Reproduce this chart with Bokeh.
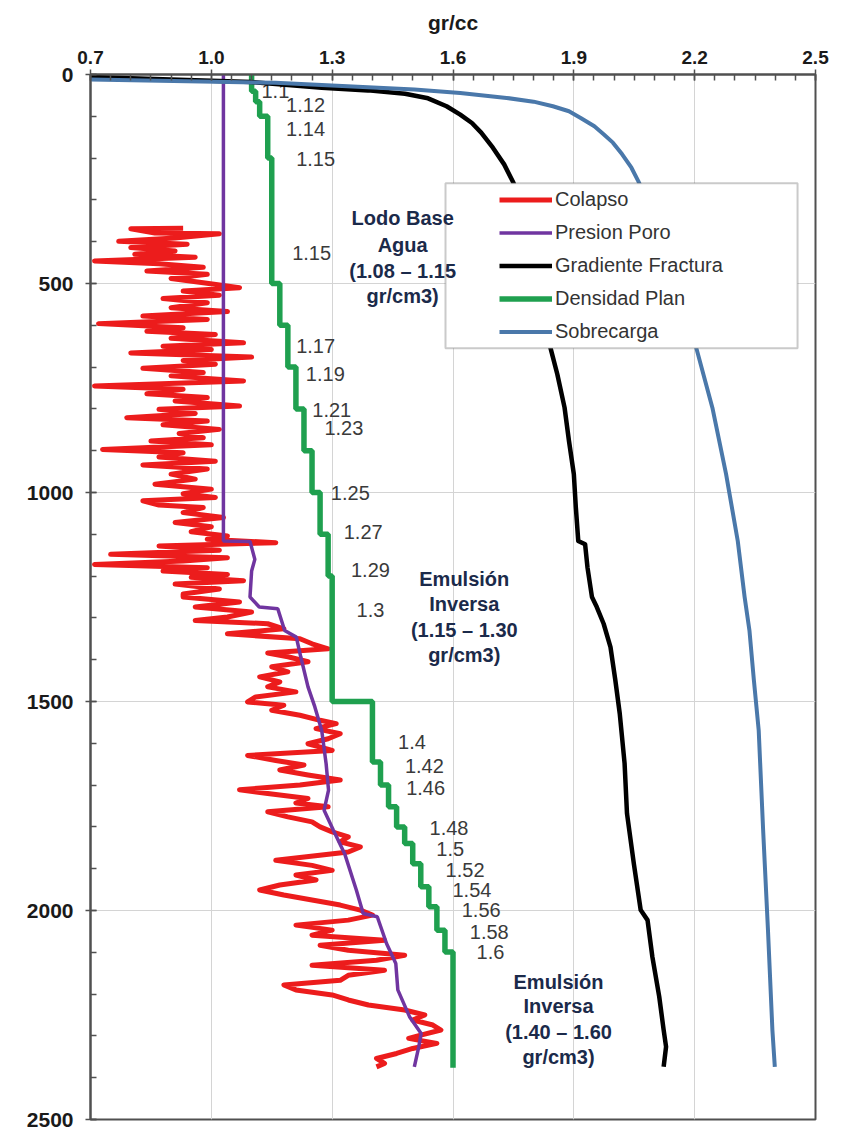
from bokeh.plotting import figure
from bokeh.models import Range1d, FixedTicker, ColumnDataSource, Legend, LegendItem, BoxAnnotation
from bokeh.core.properties import value
from bokeh.embed import file_html
from bokeh.resources import INLINE

# ---------------- axes ----------------
x_ticks = [0.7, 1.0, 1.3, 1.6, 1.9, 2.2, 2.5]
x_tick_labels = ["0.7", "1.0", "1.3", "1.6", "1.9", "2.2", "2.5"]
y_ticks = [0, 500, 1000, 1500, 2000, 2500]
y_tick_labels = ["0", "500", "1000", "1500", "2000", "2500"]
x_title = "gr/cc"

# ---------------- series ----------------
colapso_depth = [368, 369, 379, 381, 391, 399, 406, 414, 422, 430, 437, 446, 453, 461, 470, 478, 488, 498,
                 510, 518, 528, 536, 546, 558, 567, 578, 586, 596, 606, 614, 622, 631, 642, 650, 658, 666,
                 676, 684, 693, 703, 713, 721, 733, 745, 753, 764, 773, 781, 793, 801, 811, 821, 829, 838,
                 849, 859, 869, 877, 886, 897, 905, 915, 925, 934, 944, 956, 968, 980, 992, 1003, 1012, 1020,
                 1030, 1036, 1048, 1060, 1072, 1082, 1094, 1104, 1112, 1120, 1128, 1138, 1148, 1156, 1164,
                 1172, 1180, 1188, 1196, 1203, 1211, 1219, 1231, 1243,
                 1250, 1262, 1274, 1286, 1298, 1306, 1314, 1326, 1338, 1350, 1362, 1374, 1384, 1393, 1405,
                 1417, 1429, 1441, 1453, 1465, 1477, 1489, 1501, 1509, 1521, 1533, 1545, 1553, 1565, 1577,
                 1589, 1601, 1617, 1629, 1641, 1652, 1664, 1676, 1688, 1700, 1711, 1720, 1732, 1743, 1752,
                 1764, 1776, 1788, 1800, 1812, 1824, 1836, 1848, 1860, 1880, 1892, 1904, 1915, 1927, 1939,
                 1951, 1963, 1975, 1987, 1999, 2011, 2023, 2035, 2047, 2059, 2071, 2083, 2095, 2107, 2119,
                 2131, 2143, 2155, 2167, 2178, 2190, 2202, 2214, 2226, 2238, 2250, 2262, 2274, 2286, 2298,
                 2306, 2318, 2330, 2342, 2354, 2366, 2374]
colapso_value = [0.93, 0.80, 0.86, 1.02, 0.91, 0.77, 0.94, 0.80, 0.91, 0.81, 0.96, 0.71, 0.87, 0.98, 0.84, 0.99, 0.90, 0.98,
                 1.07, 0.93, 1.02, 0.88, 0.99, 0.90, 1.04, 0.83, 0.99, 0.72, 0.93, 0.84, 1.01, 0.90, 1.08, 0.88, 1.00, 0.80,
                 1.10, 0.93, 1.01, 0.83, 0.98, 0.90, 1.08, 0.71, 0.93, 0.84, 0.99, 0.91, 1.07, 0.87, 0.96, 0.79, 0.99, 0.88,
                 1.02, 0.92, 0.98, 0.85, 1.00, 0.73, 0.93, 0.87, 1.01, 0.83, 0.99, 0.90, 0.96, 0.86, 1.00, 0.93, 1.01, 0.83,
                 0.87, 0.98, 0.93, 1.03, 0.91, 1.00, 0.95, 1.04, 0.99, 1.16, 0.87, 1.02, 0.75, 1.04, 0.93,
                 0.71, 0.99, 0.88, 1.04, 0.95, 1.08, 0.91, 1.02, 0.93,
                 0.93, 1.07, 0.96, 1.10, 1.04, 0.96, 1.14, 1.18, 1.04, 1.22, 1.25, 1.29, 1.14, 1.19, 1.24,
                 1.15, 1.19, 1.12, 1.17, 1.14, 1.21, 1.11, 1.09, 1.18, 1.15, 1.22, 1.27, 1.31, 1.26, 1.32,
                 1.29, 1.24, 1.30, 1.09, 1.16, 1.23, 1.17, 1.24, 1.32, 1.22, 1.07, 1.14, 1.24, 1.21, 1.29,
                 1.14, 1.19, 1.25, 1.27, 1.30, 1.34, 1.32, 1.37, 1.34, 1.16, 1.25, 1.30, 1.21, 1.26, 1.17,
                 1.12, 1.18, 1.25, 1.32, 1.37, 1.40, 1.34, 1.21, 1.30, 1.25, 1.43, 1.27, 1.34, 1.48, 1.41,
                 1.25, 1.43, 1.34, 1.32, 1.18, 1.21, 1.30, 1.34, 1.39, 1.48, 1.53, 1.50, 1.55, 1.57, 1.52,
                 1.49, 1.56, 1.50, 1.46, 1.41, 1.43, 1.41]

poro_depth = [0, 1116, 1117, 1160, 1188, 1250, 1274, 1278, 1330, 1346, 1393, 1465, 1513, 1569, 1649, 1712,
              1760, 1808, 1864, 1951, 2007, 2015, 2079, 2127, 2190, 2254, 2294, 2326, 2374]
poro_value = [1.03, 1.03, 1.096, 1.108, 1.10, 1.096, 1.119, 1.165, 1.182, 1.211, 1.222, 1.24, 1.257, 1.274,
              1.285, 1.291, 1.28, 1.303, 1.331, 1.36, 1.377, 1.412, 1.435, 1.458, 1.463, 1.492, 1.521, 1.515, 1.504]

fractura_depth = [6, 18, 32, 38, 46, 57, 76, 96, 116, 139, 175, 215, 259, 350, 450, 560, 654, 717, 797, 877,
                  956, 1036, 1116, 1124, 1180, 1250, 1274, 1314, 1370, 1449, 1529, 1648, 1768, 1888, 1999,
                  2023, 2111, 2206, 2286, 2326, 2374]
fractura_value = [0.70, 1.10, 1.274, 1.389, 1.481, 1.538, 1.584, 1.618, 1.647, 1.670, 1.699, 1.727, 1.75,
                  1.78, 1.80, 1.825, 1.842, 1.859, 1.877, 1.888, 1.90, 1.905, 1.911, 1.928, 1.934, 1.945,
                  1.957, 1.974, 1.991, 2.003, 2.014, 2.026, 2.032, 2.049, 2.066, 2.083, 2.095, 2.112, 2.123,
                  2.129, 2.123]

sobrecarga_depth = [12, 20, 36, 44, 56, 65, 76, 88, 104, 124, 143, 163, 191, 223, 255, 380, 500, 600, 654,
                    797, 956, 1116, 1250, 1330, 1449, 1569, 1808, 2047, 2286, 2374]
sobrecarga_value = [0.70, 1.159, 1.504, 1.618, 1.733, 1.80, 1.848, 1.888, 1.917, 1.951, 1.974, 1.997, 2.02,
                    2.043, 2.06, 2.12, 2.16, 2.19, 2.204, 2.244, 2.278, 2.307, 2.324, 2.336, 2.347, 2.359,
                    2.37, 2.382, 2.393, 2.399]

plan_top = [0, 40, 65, 100, 200, 500, 600, 700, 800, 900, 1000, 1100, 1200, 1500, 1645, 1700, 1752, 1800,
            1840, 1888, 1943, 1991, 2047, 2099]
plan_bottom = [40, 65, 100, 200, 500, 600, 700, 800, 900, 1000, 1100, 1200, 1500, 1645, 1700, 1752, 1800,
               1840, 1888, 1943, 1991, 2047, 2099, 2376]
plan_value = [1.10, 1.11, 1.12, 1.14, 1.15, 1.17, 1.19, 1.21, 1.23, 1.25, 1.27, 1.29, 1.30, 1.40, 1.42, 1.44,
              1.46, 1.48, 1.50, 1.52, 1.54, 1.56, 1.58, 1.60]

# step labels of the plan density
plan_label_text = ["1.1", "1.12", "1.14", "1.15", "1.15", "1.17", "1.19", "1.21", "1.23", "1.25", "1.27",
                   "1.29", "1.3", "1.4", "1.42", "1.46", "1.48", "1.5", "1.52", "1.54", "1.56", "1.58", "1.6"]
plan_label_x = [1.159, 1.234, 1.234, 1.259, 1.249, 1.259, 1.283, 1.299, 1.329, 1.345, 1.377, 1.395, 1.395,
                1.498, 1.529, 1.532, 1.59, 1.593, 1.63, 1.647, 1.67, 1.69, 1.693]
plan_label_depth = [40, 72, 131, 203, 426, 650, 717, 803, 846, 1000, 1094, 1185, 1282, 1597, 1655, 1708, 1802,
                    1852, 1902, 1951, 1999, 2051, 2099]

# mud type notes
note_text = ["Lodo Base", "Agua", "(1.08 \u2013 1.15", "gr/cm3)",
             "Emulsi\u00f3n", "Inversa", "(1.15 \u2013 1.30", "gr/cm3)",
             "Emulsi\u00f3n", "Inversa", "(1.40 \u2013 1.60", "gr/cm3)"]
note_x = [1.475] * 4 + [1.628] * 4 + [1.862] * 4
note_depth = [344, 408, 470, 530, 1207, 1266, 1330, 1389, 2171, 2229, 2290, 2350]

series_names = ["Colapso", "Presion Poro", "Gradiente Fractura", "Densidad Plan", "Sobrecarga"]
series_colors = ["#ec1c1c", "#7035a0", "#000000", "#1fa04f", "#4a78aa"]

FONT = "Liberation Sans"
FRAME_W, FRAME_H = 725, 1045

p = figure(width=830, height=1131, output_backend="svg", toolbar_location=None,
           x_range=Range1d(0.7, 2.5), y_range=Range1d(2500, 0),
           x_axis_location="above", frame_width=FRAME_W, frame_height=FRAME_H,
           min_border_left=90, min_border_right=15, min_border_top=74, min_border_bottom=12)
p.background_fill_color = "white"
p.border_fill_color = "white"
p.outline_line_color = "#505050"
p.outline_line_width = 2

x_minor = [round(0.7 + 0.05 * i, 2) for i in range(37)]
y_minor = list(range(0, 2501, 100))
p.xaxis.ticker = FixedTicker(ticks=x_ticks, minor_ticks=x_minor)
p.yaxis.ticker = FixedTicker(ticks=y_ticks, minor_ticks=y_minor)
p.xaxis.major_label_overrides = {t: s for t, s in zip(x_ticks, x_tick_labels)}
p.yaxis.major_label_overrides = {t: s for t, s in zip(y_ticks, y_tick_labels)}
p.xaxis.axis_label = x_title
for ax in (p.xaxis[0], p.yaxis[0]):
    ax.axis_line_color = "#505050"
    ax.axis_line_width = 2
    ax.major_tick_line_color = "#505050"
    ax.minor_tick_line_color = "#505050"
    ax.major_tick_line_width = 1.5
    ax.minor_tick_line_width = 1.5
    ax.major_tick_in = 6
    ax.major_tick_out = 5
    ax.minor_tick_in = 6
    ax.minor_tick_out = 0
    ax.major_label_text_font = FONT
    ax.major_label_text_font_style = "bold"
    ax.major_label_text_color = "#1a1a1a"
p.xaxis.major_label_text_font_size = "19px"
p.xaxis.major_label_standoff = 6
p.xaxis.axis_label_text_font = FONT
p.xaxis.axis_label_text_font_style = "bold"
p.xaxis.axis_label_text_font_size = "21px"
p.xaxis.axis_label_text_color = "#1a1a1a"
p.xaxis.axis_label_standoff = 14
p.yaxis.major_label_text_font_size = "21px"
p.yaxis.major_label_standoff = 12
p.xgrid.grid_line_color = "#d4d4d4"
p.ygrid.grid_line_color = "#d4d4d4"
p.xgrid.grid_line_width = 1
p.ygrid.grid_line_width = 1

# step labels (under the curves)
lab_src = ColumnDataSource(dict(x=plan_label_x, y=plan_label_depth, t=plan_label_text))
p.text(x="x", y="y", text="t", source=lab_src, text_font=value(FONT), text_font_size="20px",
       text_align="center", text_baseline="middle", text_color="#3a3a3a")

# curves
r_col = p.line(colapso_value, colapso_depth, line_color=series_colors[0], line_width=5, line_join="round")
r_por = p.line(poro_value, poro_depth, line_color=series_colors[1], line_width=3.5)
plan_x, plan_y = [], []
for top, bot, v in zip(plan_top, plan_bottom, plan_value):
    plan_x += [v, v]
    plan_y += [top, bot]
r_plan = p.line(plan_x, plan_y, line_color=series_colors[3], line_width=5.5)
r_fra = p.line(fractura_value, fractura_depth, line_color=series_colors[2], line_width=4.5, line_join="round")
r_sob = p.line(sobrecarga_value, sobrecarga_depth, line_color=series_colors[4], line_width=4, line_join="round")

# legend box
box = BoxAnnotation(left=1.5814, right=2.4554, top=260, bottom=655, fill_color="white", fill_alpha=1,
                    line_color="#505050", line_width=2)
p.add_layout(box)

renders = [r_col, r_por, r_fra, r_plan, r_sob]
legend = Legend(items=[LegendItem(label=n, renderers=[r]) for n, r in zip(series_names, renders)],
                location=(409, 771), padding=0, margin=0, spacing=0,
                glyph_width=53, glyph_height=33, label_height=33, label_standoff=3,
                label_text_font=FONT, label_text_font_size="20px", label_text_color="#333333",
                border_line_alpha=0, background_fill_alpha=0)
p.add_layout(legend)

# notes (over the legend box)
note_src = ColumnDataSource(dict(x=note_x, y=note_depth, t=note_text))
p.text(x="x", y="y", text="t", source=note_src, text_font=value(FONT), text_font_size="20px",
       text_font_style="bold", text_align="center", text_baseline="middle", text_color="#1b2a4a",
       level="overlay")

open("out.html", "w").write(file_html(p, INLINE))
